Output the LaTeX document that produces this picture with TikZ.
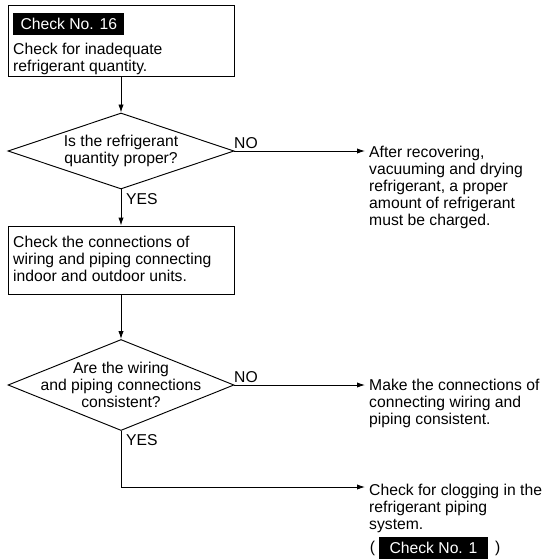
\documentclass[tikz,border=0pt]{standalone}
\usepackage{fontspec}
\setmainfont{Liberation Sans}
\usetikzlibrary{positioning, arrows.meta, shapes.geometric}

\tikzset{
    txt/.style={inner sep=0pt, align=left, font=\fontsize{13.4}{14.5}\selectfont},
    stepbox/.style={draw, line width=0.8pt, minimum width=6.78cm},
    decision/.style={draw, diamond, line width=0.8pt, inner sep=0pt, minimum width=6.78cm},
    tagbox/.style={fill=black, text=white, inner ysep=0pt, minimum height=0.66cm,
                   font=\fontsize{13.4}{14.5}\selectfont},
    flow/.style={->, line width=0.8pt},
}

\begin{document}
\begin{tikzpicture}[x=0.03cm, y=-0.03cm, >={Latex[length=0.24cm, width=0.16cm]}]
    \useasboundingbox (0,0) rectangle (545,559);

    % ---------------- first check ----------------
    % (base anchors sit on the last line of a text)
    \node[stepbox, minimum height=2.13cm] (box16) at (121,40.5) {};
    \node[tagbox, inner xsep=0.22cm, anchor=north west] (tag16) at (13,13) {Check No. 16};
    \node[txt, anchor=base west] (txt16) at (13,71) {Check for inadequate\\refrigerant quantity.};

    % ---------------- refrigerant question ----------------
    \node[decision, minimum height=2.28cm] (q1) at (121,151) {};
    \node[txt, align=center] (q1txt) at (121,151) {Is the refrigerant\\quantity proper?};
    \node[txt, anchor=base west] (no1) at (234,148) {NO};
    \node[txt, anchor=base west] (yes1) at (126,204) {YES};

    % ---------------- wiring / piping check ----------------
    \node[stepbox, minimum height=2.04cm] (box2) at (121,260) {};
    \node[txt, anchor=base west] (txt2) at (13,281)
        {Check the connections of\\wiring and piping connecting\\indoor and outdoor units.};

    % ---------------- connection question ----------------
    \node[decision, minimum height=2.73cm] (q2) at (121,385) {};
    \node[txt, align=center] (q2txt) at (121,385) {Are the wiring\\and piping connections\\consistent?};
    \node[txt, anchor=base west] (no2) at (234,382) {NO};
    \node[txt, anchor=base west] (yes2) at (126,445) {YES};

    % ---------------- actions on the right ----------------
    \node[txt, inner xsep=0.12cm, anchor=base west] (fix1) at (365,225) {After recovering,\\vacuuming and drying\\refrigerant, a proper\\amount of refrigerant\\must be charged.};
    \node[txt, inner xsep=0.12cm, anchor=base west] (fix2) at (365,424.5) {Make the connections of\\connecting wiring and\\piping consistent.};
    \node[txt, inner xsep=0.12cm, anchor=base west] (clog) at (365,529) {Check for clogging in the\\refrigerant piping\\system.};

    \node[tagbox, minimum width=3.27cm] (tag1) at (433.5,548) {Check No. 1};
    \node[txt, left=0.1cm of tag1] (lpar) {(};
    \node[txt, right=0.2cm of tag1] (rpar) {)};

    % ---------------- connectors ----------------
    \draw[flow] (box16) -- (q1);
    \draw[flow] (q1) -- (box2);
    \draw[flow] (box2) -- (q2);
    \draw[flow] (q1.east) -- (q1.east -| fix1.west);
    \draw[flow] (q2.east) -- (q2.east -| fix2.west);
    \coordinate (turn) at (q2.south |- 0,487);
    \draw[flow] (q2.south) -- (turn) -- (turn -| clog.west);
\end{tikzpicture}
\end{document}
